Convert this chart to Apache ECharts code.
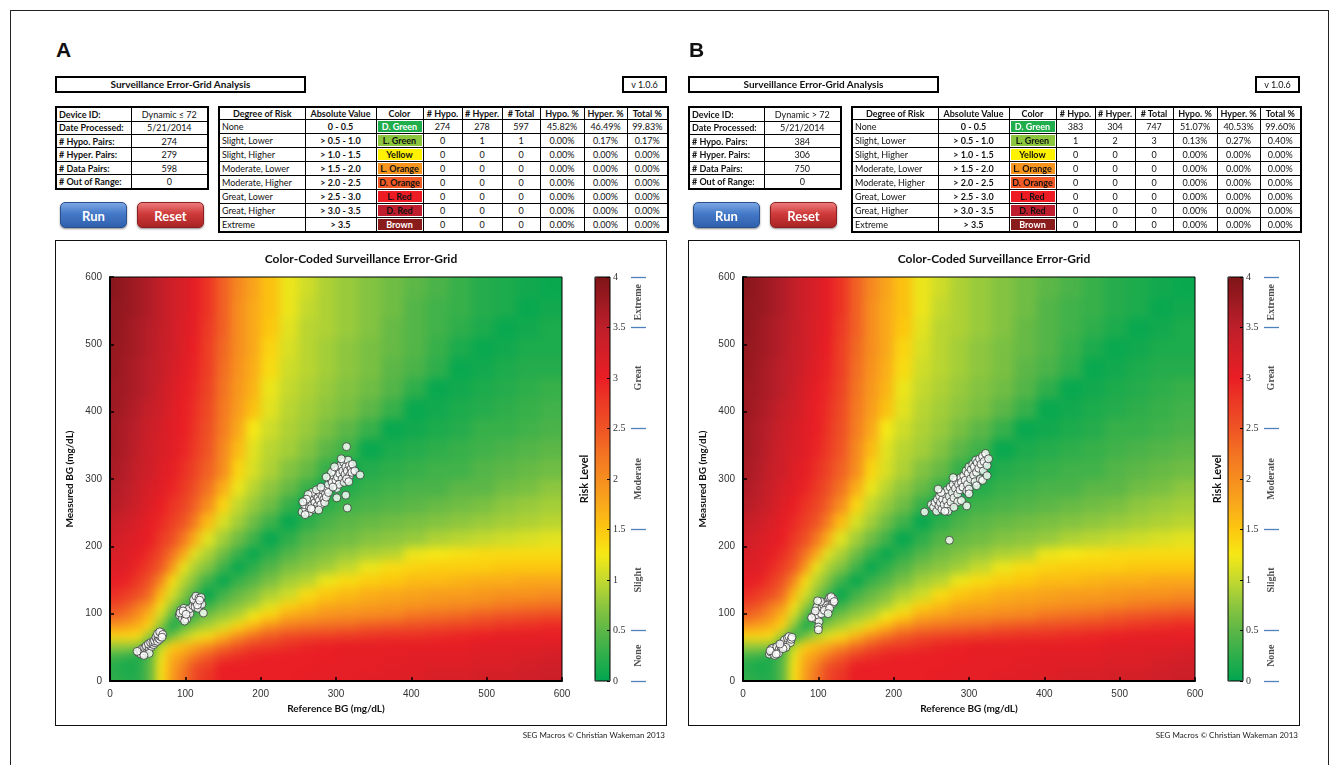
<!DOCTYPE html>
<html><head><meta charset="utf-8">
<script src="https://cdn.jsdelivr.net/npm/echarts@6.0.0/dist/echarts.min.js"></script>
<style>
html,body{margin:0;padding:0;background:#fff}
body{width:1333px;height:765px;overflow:hidden;position:relative;font-family:Lato,'Liberation Sans',sans-serif;color:#111}
#frame{position:absolute;left:10px;top:10px;width:1319px;height:790px;border:1px solid #222;box-sizing:border-box}
.panel{position:absolute;top:0;width:680px;height:765px}
.letter{position:absolute;left:56px;top:38px;font:bold 21px 'Liberation Sans',Arial,sans-serif}
.tbox{position:absolute;top:76px;left:55px;width:251px;height:17px;border:2px solid #000;box-sizing:border-box;font-weight:bold;font-size:10px;text-align:center;line-height:13px}
.vbox{position:absolute;top:76px;left:622px;width:45px;height:17px;border:2px solid #000;box-sizing:border-box;font-size:9px;text-align:center;line-height:13px}
table{position:absolute;border-collapse:collapse;table-layout:fixed;font-size:9px;border:2px solid #000}
td{border:1px solid #000;padding:0 2px;white-space:nowrap;overflow:hidden;line-height:11px}
.dev td.l{font-weight:bold;text-align:left}
.dev td.v{text-align:center}
.risk td{text-align:center}
.risk tr.h td{font-weight:bold}
.risk td.d{text-align:left}
.risk td.a{font-weight:bold}
.risk td.c{padding:1px 1px;font-weight:bold}
.risk td.c div{height:11px;line-height:11px}
.btn{position:absolute;top:202px;width:67px;height:26px;border-radius:5px;color:#fff;font-weight:bold;font-size:13px;text-align:center;line-height:26px;box-sizing:border-box;box-shadow:0 1px 2px rgba(0,0,0,.45)}
.run{left:60px;background:linear-gradient(#7aa6e4,#4479c8 45%,#2f60ad);border:1px solid #2d4f8a}
.reset{left:137px;background:linear-gradient(#ec7b7b,#cf3a3a 45%,#aa2424);border:1px solid #8a2020}
.cbox{position:absolute;left:55px;top:240px;width:612px;height:486px;border:1px solid #111;box-sizing:border-box}
.heatclip{position:absolute;left:110px;top:277px;width:452px;height:404px;overflow:hidden}
.heat{position:absolute;left:-30px;top:-30px;width:512px;height:464px;filter:blur(5px)}
.chart{position:absolute;left:55px;top:240px;width:612px;height:486px}
.foot{position:absolute;left:465px;top:730px;width:200px;text-align:right;font-size:8px;color:#222}
</style>
</head><body>
<div id="frame"></div>
<script>
// ---------------- DATA ----------------
const panelLetters = ['A', 'B'];
const headerTitle = 'Surveillance Error-Grid Analysis';
const versionText = 'v 1.0.6';
const chartTitle = 'Color-Coded Surveillance Error-Grid';
const footerText = 'SEG Macros \u00a9 Christian Wakeman 2013';

const deviceLabels = ['Device ID:', 'Date Processed:', '# Hypo. Pairs:', '# Hyper. Pairs:', '# Data Pairs:', '# Out of Range:'];
const deviceValuesA = ['Dynamic \u2264 72', '5/21/2014', '274', '279', '598', '0'];
const deviceValuesB = ['Dynamic > 72', '5/21/2014', '384', '306', '750', '0'];

const riskHeaders = ['Degree of Risk', 'Absolute Value', 'Color', '# Hypo.', '# Hyper.', '# Total', 'Hypo. %', 'Hyper. %', 'Total %'];
const riskDegrees = ['None', 'Slight, Lower', 'Slight, Higher', 'Moderate, Lower', 'Moderate, Higher', 'Great, Lower', 'Great, Higher', 'Extreme'];
const riskRanges = ['0 - 0.5', '> 0.5 - 1.0', '> 1.0 - 1.5', '> 1.5 - 2.0', '> 2.0 - 2.5', '> 2.5 - 3.0', '> 3.0 - 3.5', '> 3.5'];
const riskColorNames = ['D. Green', 'L. Green', 'Yellow', 'L. Orange', 'D. Orange', 'L. Red', 'D. Red', 'Brown'];
const riskColorFills = ['#1fae4b', '#8cc63e', '#fff200', '#f7941d', '#f15a24', '#ed1c24', '#be1e2d', '#8b1c1c'];
const riskColorText = ['#fff', '#111', '#111', '#111', '#111', '#111', '#111', '#fff'];

const hypoA = [274, 0, 0, 0, 0, 0, 0, 0];
const hyperA = [278, 1, 0, 0, 0, 0, 0, 0];
const totalA = [597, 1, 0, 0, 0, 0, 0, 0];
const hypoPctA = ['45.82%', '0.00%', '0.00%', '0.00%', '0.00%', '0.00%', '0.00%', '0.00%'];
const hyperPctA = ['46.49%', '0.17%', '0.00%', '0.00%', '0.00%', '0.00%', '0.00%', '0.00%'];
const totalPctA = ['99.83%', '0.17%', '0.00%', '0.00%', '0.00%', '0.00%', '0.00%', '0.00%'];

const hypoB = [383, 1, 0, 0, 0, 0, 0, 0];
const hyperB = [304, 2, 0, 0, 0, 0, 0, 0];
const totalB = [747, 3, 0, 0, 0, 0, 0, 0];
const hypoPctB = ['51.07%', '0.13%', '0.00%', '0.00%', '0.00%', '0.00%', '0.00%', '0.00%'];
const hyperPctB = ['40.53%', '0.27%', '0.00%', '0.00%', '0.00%', '0.00%', '0.00%', '0.00%'];
const totalPctB = ['99.60%', '0.40%', '0.00%', '0.00%', '0.00%', '0.00%', '0.00%', '0.00%'];

// risk colour scale (0 .. 4, every 0.25)
const riskScaleColors = ['#00a650', '#2eae4b', '#5cb747', '#8dc63f', '#c4d92e', '#f6e816', '#fcc70f', '#f9a81b', '#f68d1f',
  '#f37322', '#ef5425', '#ec3a25', '#ea1e25', '#d41f27', '#bd1f2a', '#9e1a22', '#7d1518'];
const categoryBounds = [0, 0.5, 1.5, 2.5, 3.5, 4];
const categoryNames = ['None', 'Slight', 'Moderate', 'Great', 'Extreme'];
const categoryMids = [0.25, 1, 2, 3, 3.75];

// SEG background grid: cell edges (mg/dL) on both axes, rows from measured 0 upwards, risk
const gridEdges = [0, 15, 30, 45, 60, 75, 90, 105, 120, 140, 160, 180, 200, 225, 250, 275, 300, 330, 360, 390, 420, 450, 480, 510, 540, 570, 600];
const riskRows = [
  [0.25,0.2,0.2,0.5,1.3,1.85,2.25,2.6,2.8,3.0,3.0,3.0,3.0,3.0,3.05,3.05,3.05,3.1,3.1,3.15,3.2,3.2,3.25,3.25,3.3,3.35],
  [0.2,0.1,0.2,0.5,1.3,1.8,2.15,2.55,2.7,3.0,3.0,3.0,3.0,3.0,3.0,3.05,3.05,3.05,3.1,3.1,3.15,3.15,3.2,3.2,3.25,3.3],
  [0.35,0.3,0.15,0.45,1.2,1.7,1.9,2.2,2.45,2.7,2.85,2.95,3.0,3.0,3.0,3.0,3.05,3.05,3.05,3.1,3.1,3.1,3.15,3.15,3.2,3.25],
  [0.8,0.8,0.75,0.15,1.0,1.45,1.6,1.75,2.0,2.3,2.5,2.7,2.75,2.85,2.95,3.0,3.05,3.05,3.05,3.05,3.05,3.05,3.1,3.1,3.1,3.15],
  [1.4,1.4,1.35,0.8,0.2,0.65,0.95,1.15,1.35,1.65,2.0,2.25,2.45,2.6,2.65,2.7,2.75,2.8,2.85,2.85,2.9,2.95,3.0,3.05,3.05,3.05],
  [1.9,1.8,1.65,1.4,0.75,0.1,0.5,0.75,0.9,1.1,1.4,1.65,1.95,2.15,2.25,2.3,2.35,2.45,2.5,2.55,2.6,2.65,2.7,2.8,2.85,2.9],
  [2.35,2.2,1.95,1.6,1.05,0.5,0.05,0.4,0.65,0.8,0.95,1.25,1.45,1.75,1.85,1.95,2.0,2.05,2.1,2.25,2.3,2.35,2.45,2.5,2.55,2.6],
  [2.6,2.45,2.15,1.9,1.3,0.8,0.4,0.05,0.35,0.6,0.75,0.9,1.15,1.45,1.6,1.75,1.8,1.85,1.9,1.95,2.0,2.05,2.1,2.2,2.25,2.3],
  [2.85,2.7,2.55,2.3,1.6,1.1,0.75,0.4,0.05,0.35,0.55,0.7,0.9,1.05,1.35,1.5,1.6,1.7,1.75,1.8,1.85,1.85,1.9,1.95,1.95,2.0],
  [3.05,2.95,2.75,2.5,2.05,1.35,0.95,0.7,0.35,0.05,0.3,0.45,0.65,0.85,0.95,1.2,1.35,1.45,1.5,1.6,1.6,1.65,1.7,1.7,1.75,1.75],
  [3.15,3.1,2.9,2.7,2.45,1.9,1.2,0.9,0.7,0.35,0.05,0.25,0.45,0.65,0.75,0.85,1.0,1.2,1.35,1.4,1.45,1.45,1.45,1.5,1.5,1.5],
  [3.2,3.15,3.05,2.85,2.6,2.25,1.75,1.15,0.9,0.6,0.3,0.05,0.25,0.45,0.6,0.7,0.8,0.9,0.95,1.2,1.25,1.3,1.35,1.35,1.35,1.35],
  [3.3,3.2,3.1,3.0,2.75,2.55,2.2,1.7,1.15,0.85,0.6,0.35,0.05,0.25,0.45,0.55,0.6,0.7,0.75,0.8,0.9,0.95,1.0,1.05,1.1,1.15],
  [3.4,3.3,3.2,3.05,2.9,2.7,2.5,2.15,1.6,1.1,0.85,0.6,0.35,0.05,0.25,0.4,0.5,0.55,0.6,0.65,0.7,0.75,0.8,0.85,0.9,0.95],
  [3.55,3.45,3.3,3.15,3.0,2.8,2.65,2.4,2.0,1.4,1.0,0.8,0.6,0.3,0.05,0.25,0.35,0.4,0.45,0.5,0.55,0.6,0.65,0.75,0.8,0.85],
  [3.6,3.5,3.35,3.2,3.1,2.95,2.75,2.55,2.25,1.7,1.2,0.95,0.75,0.55,0.3,0.05,0.2,0.3,0.35,0.4,0.4,0.5,0.5,0.6,0.65,0.75],
  [3.65,3.55,3.4,3.3,3.15,3.05,2.85,2.65,2.4,2.0,1.4,1.1,0.9,0.7,0.55,0.3,0.05,0.2,0.25,0.3,0.35,0.35,0.45,0.5,0.55,0.6],
  [3.7,3.6,3.45,3.3,3.2,3.1,2.95,2.75,2.5,2.05,1.6,1.15,0.95,0.85,0.7,0.5,0.35,0.05,0.15,0.2,0.25,0.3,0.35,0.4,0.45,0.5],
  [3.7,3.6,3.5,3.35,3.25,3.1,3.0,2.8,2.55,2.15,1.75,1.25,1.05,0.9,0.8,0.65,0.5,0.3,0.05,0.1,0.15,0.2,0.3,0.3,0.35,0.4],
  [3.75,3.65,3.55,3.4,3.3,3.15,3.0,2.85,2.6,2.2,1.85,1.55,1.15,0.95,0.85,0.75,0.65,0.5,0.3,0.05,0.1,0.15,0.2,0.25,0.3,0.35],
  [3.75,3.7,3.6,3.5,3.35,3.2,3.05,2.9,2.65,2.25,1.9,1.65,1.2,1.0,0.9,0.8,0.7,0.6,0.45,0.25,0.05,0.1,0.15,0.2,0.25,0.3],
  [3.8,3.7,3.6,3.5,3.4,3.25,3.1,2.95,2.7,2.3,1.95,1.7,1.35,1.05,0.95,0.85,0.75,0.65,0.5,0.4,0.25,0.05,0.1,0.15,0.2,0.2],
  [3.8,3.75,3.65,3.55,3.4,3.3,3.15,3.0,2.7,2.35,2.0,1.75,1.4,1.1,0.95,0.85,0.75,0.65,0.55,0.45,0.3,0.15,0.05,0.1,0.15,0.15],
  [3.85,3.75,3.65,3.55,3.45,3.3,3.15,3.05,2.75,2.4,2.0,1.75,1.5,1.15,0.95,0.9,0.8,0.7,0.55,0.45,0.35,0.25,0.15,0.05,0.1,0.15],
  [3.85,3.8,3.7,3.6,3.45,3.3,3.2,3.05,2.8,2.4,2.0,1.75,1.55,1.2,1.0,0.9,0.8,0.7,0.6,0.45,0.35,0.3,0.2,0.15,0.05,0.1],
  [3.9,3.8,3.7,3.6,3.45,3.3,3.2,3.05,2.8,2.4,2.05,1.8,1.55,1.2,1.05,0.9,0.8,0.7,0.6,0.5,0.4,0.3,0.2,0.15,0.1,0.05]
];

// measured pairs [reference, measured]
const pairsA = [
  [38,42],[40,45],[42,43],[44,46],[41,40],[45,41],[47,44],[43,48],[46,49],[49,47],[50,50],[48,52],[52,49],[53,53],[55,51],[51,55],
  [56,55],[54,57],[58,54],[57,58],[60,57],[59,60],[62,62],[61,65],[63,59],[64,64],[65,68],[66,62],[67,66],[63,70],[68,72],[66,73],
  [70,69],[69,65],[52,41],[36,44],[45,38],
  [92,98],[95,102],[97,96],[99,100],[101,104],[103,98],[96,93],[100,95],[94,105],[98,108],[104,103],[106,100],[102,92],[99,89],
  [93,101],[105,107],[97,104],[101,99],
  [110,112],[112,118],[114,115],[116,120],[113,110],[118,116],[115,124],[119,112],[117,108],[120,119],[122,114],[111,121],
  [114,126],[118,123],[121,124],[124,101],[116,113],[119,120],
  [255,251],[260,255],[258,262],[262,266],[265,258],[264,250],[268,262],[270,270],[266,273],[272,265],[275,260],[273,277],
  [276,272],[278,268],[280,262],[279,279],[282,274],[284,270],[283,283],[286,278],[288,285],[285,265],[268,280],[263,277],
  [270,255],[277,254],[287,273],[290,280],[274,284],[261,270],[280,288],[267,256],[256,266],[259,247],
  [290,292],[293,300],[295,295],[297,305],[299,311],[300,298],[302,303],[303,315],[305,308],[306,320],[308,300],[309,312],
  [310,325],[312,307],[313,318],[315,312],[316,328],[318,305],[318,320],[320,315],[322,322],[294,310],[298,318],[301,286],
  [304,292],[307,330],[311,295],[314,300],[296,288],[317,296],[321,310],[325,312],[332,306],[287,303],[313,276],[315,257],
  [301,272],[314,348]
];
const pairsB = [
  [35,40],[37,43],[39,46],[41,42],[43,45],[40,49],[44,48],[46,44],[38,48],[42,38],[45,51],[48,47],[36,45],[47,41],[50,52],
  [52,55],[54,57],[56,53],[58,58],[55,61],[60,60],[62,62],[59,64],[63,57],[61,66],[64,62],[57,50],[53,48],[65,65],[49,55],[44,40],
  [92,95],[95,99],[97,92],[99,103],[100,98],[102,106],[98,110],[104,100],[96,104],[101,88],[100,80],[100,76],[91,94],[105,110],
  [107,113],[110,115],[112,118],[114,121],[116,117],[118,120],[115,124],[111,112],[119,115],[120,122],[117,125],[113,109],
  [108,105],[115,108],[121,118],[103,118],[99,119],[113,100],
  [250,262],[253,258],[255,265],[257,252],[258,270],[260,260],[261,275],[262,265],[264,255],[265,270],[267,262],[268,278],
  [270,268],[271,284],[272,260],[274,274],[275,288],[276,266],[278,280],[279,292],[280,272],[282,286],[283,298],[285,278],
  [286,292],[288,284],[289,302],[290,295],[292,288],[293,305],[295,298],[296,312],[298,292],[299,308],[300,318],[302,300],
  [303,314],[305,322],[306,306],[307,318],[309,328],[310,310],[311,324],[313,316],[314,330],[316,322],[318,334],[319,312],
  [320,326],[322,338],[324,320],[326,330],[308,296],[297,282],[285,266],[272,252],[263,280],[279,302],[300,285],[315,300],
  [290,268],[300,278],[310,290],[318,298],[324,305],[280,258],[268,252],[241,251],[274,209],[297,260],[259,285]
];

// ---------------- BUILD ----------------
const panelOffsets = [0, 633];
const panels = [
  {dev: deviceValuesA, hypo: hypoA, hyper: hyperA, total: totalA, hp: hypoPctA, yp: hyperPctA, tp: totalPctA, pts: pairsA},
  {dev: deviceValuesB, hypo: hypoB, hyper: hyperB, total: totalB, hp: hypoPctB, yp: hyperPctB, tp: totalPctB, pts: pairsB}
];

const cells = [];
for (let j = 0; j < riskRows.length; j++) {
  for (let i = 0; i < riskRows[j].length; i++) {
    cells.push([gridEdges[i], gridEdges[i + 1], gridEdges[j], gridEdges[j + 1], riskRows[j][i]]);
  }
}
const axisMin = gridEdges[0], axisMax = gridEdges[gridEdges.length - 1];

function el(tag, cls, parent, html) {
  const e = document.createElement(tag);
  if (cls) e.className = cls;
  if (html !== undefined) e.innerHTML = html;
  parent.appendChild(e);
  return e;
}

// background risk surface (drawn in its own layer, softened, then clipped to the plot area)
function heatOption() {
  const pad = 30;
  return {
    animation: false,
    grid: {left: pad, top: pad, width: 452, height: 404},
    xAxis: {type: 'value', min: axisMin, max: axisMax, show: false},
    yAxis: {type: 'value', min: axisMin, max: axisMax, show: false},
    visualMap: {type: 'continuous', show: false, min: 0, max: 4, dimension: 4, seriesIndex: 0, inRange: {color: riskScaleColors}},
    series: [{type: 'custom', data: cells, silent: true, encode: {x: [0, 1], y: [2, 3]},
      renderItem: function (params, api) {
        const x0v = api.value(0), x1v = api.value(1), y0v = api.value(2), y1v = api.value(3);
        const p0 = api.coord([x0v, y1v]);
        const p1 = api.coord([x1v, y0v]);
        let x = p0[0], y = p0[1], x2 = p1[0] + 0.7, y2 = p1[1] + 0.7;
        if (x0v === axisMin) x -= pad;
        if (x1v === axisMax) x2 += pad;
        if (y1v === axisMax) y -= pad;
        if (y0v === axisMin) y2 += pad;
        return {type: 'rect', shape: {x: x, y: y, width: x2 - x, height: y2 - y}, style: {fill: api.visual('color')}};
      }}]
  };
}

function makeOption(pts) {
  const axisFont = {color: '#333', fontSize: 10, fontFamily: 'Liberation Sans'};
  const nameFont = {fontWeight: 'bold', fontSize: 10, color: '#111', fontFamily: 'Lato'};
  return {
    animation: false,
    title: {text: chartTitle, left: 'center', top: 8,
      textStyle: {fontFamily: 'Lato', fontWeight: 'bold', fontSize: 12, color: '#111'}},
    grid: [
      {left: 55, top: 37, width: 452, height: 404, show: true, borderColor: '#000', borderWidth: 1, backgroundColor: 'transparent', z: 10},
      {left: 540, top: 37, width: 15, height: 404, show: true, borderColor: '#000', borderWidth: 1, backgroundColor: 'transparent', z: 10},
      {left: 576, top: 37, width: 15, height: 404}
    ],
    xAxis: [
      {gridIndex: 0, type: 'value', min: 0, max: 600, interval: 100, z: 11,
        axisLine: {onZero: false, lineStyle: {color: '#000', width: 2}},
        axisTick: {inside: true, length: 4, lineStyle: {color: '#000', width: 1.5}},
        axisLabel: Object.assign({margin: 8}, axisFont), splitLine: {show: false},
        name: 'Reference BG (mg/dL)', nameLocation: 'middle', nameGap: 23, nameTextStyle: nameFont},
      {gridIndex: 1, type: 'value', min: 0, max: 1, show: false},
      {gridIndex: 2, type: 'value', min: 0, max: 1, show: false}
    ],
    yAxis: [
      {gridIndex: 0, type: 'value', min: 0, max: 600, interval: 100, z: 11,
        axisLine: {onZero: false, lineStyle: {color: '#000', width: 2}},
        axisTick: {inside: true, length: 4, lineStyle: {color: '#000', width: 1.5}},
        axisLabel: Object.assign({margin: 8}, axisFont), splitLine: {show: false},
        name: 'Measured BG (mg/dL)', nameLocation: 'middle', nameGap: 18, nameTextStyle: nameFont},
      {gridIndex: 1, type: 'value', min: 0, max: 4, position: 'left',
        axisLine: {show: false}, axisTick: {show: false}, axisLabel: {show: false}, splitLine: {show: false},
        name: 'Risk Level', nameLocation: 'middle', nameGap: 5,
        nameTextStyle: {fontWeight: 'bold', fontSize: 11, color: '#111', fontFamily: 'Lato'}},
      {gridIndex: 1, type: 'value', min: 0, max: 4, interval: 0.5, position: 'right', z: 11,
        axisLine: {show: false}, axisTick: {inside: true, length: 3, lineStyle: {color: '#000'}},
        axisLabel: {margin: 3, fontSize: 10, fontFamily: 'Liberation Serif', color: '#333'}, splitLine: {show: false}},
      {gridIndex: 2, type: 'value', min: 0, max: 4, show: false}
    ],
    visualMap: {type: 'continuous', min: 0, max: 4, seriesIndex: [], show: true,
      left: 540, top: 37, itemWidth: 15, itemHeight: 404, padding: 0, calculable: false, hoverLink: false,
      inRange: {color: riskScaleColors}, textStyle: {color: 'transparent'}},
    series: [
      {type: 'scatter', xAxisIndex: 0, yAxisIndex: 0, data: pts, symbolSize: 8, z: 5, silent: true,
        itemStyle: {color: '#fff', borderColor: '#3a3a3a', borderWidth: 1}},
      {type: 'scatter', xAxisIndex: 2, yAxisIndex: 3, silent: true, symbolSize: 1,
        data: categoryMids.map((v, k) => [0.5, v, categoryNames[k]]),
        itemStyle: {color: 'rgba(0,0,0,0)'},
        label: {show: true, position: 'inside', rotate: 90, formatter: p => p.data[2],
          fontFamily: 'Liberation Serif', fontWeight: 'bold', fontSize: 10, color: '#222'},
        markLine: {silent: true, symbol: ['none', 'none'], label: {show: false},
          lineStyle: {color: '#4f81bd', width: 1.3, type: 'solid'},
          data: categoryBounds.map(v => ({yAxis: v}))}}
    ]
  };
}

panels.forEach((p, k) => {
  const off = panelOffsets[k];
  const pan = el('div', 'panel', document.body);
  pan.style.left = off + 'px';
  el('div', 'letter', pan, panelLetters[k]);
  el('div', 'tbox', pan, headerTitle);
  el('div', 'vbox', pan, versionText);

  const dt = el('table', 'dev', pan);
  dt.style.left = '55px'; dt.style.top = '106px'; dt.style.width = '152px'; dt.style.height = '84px';
  let h = '<colgroup><col style="width:75px"><col style="width:77px"></colgroup>';
  deviceLabels.forEach((l, i) => { h += '<tr><td class="l">' + l + '</td><td class="v">' + p.dev[i] + '</td></tr>'; });
  dt.innerHTML = h;

  const rt = el('table', 'risk', pan);
  rt.style.left = '218px'; rt.style.top = '106px'; rt.style.width = '449px'; rt.style.height = '124px';
  const cw = [86, 71, 47, 39, 40, 38, 44, 43, 41];
  h = '<colgroup>' + cw.map(w => '<col style="width:' + w + 'px">').join('') + '</colgroup>';
  h += '<tr class="h">' + riskHeaders.map(t => '<td>' + t + '</td>').join('') + '</tr>';
  riskDegrees.forEach((d, i) => {
    h += '<tr><td class="d">' + d + '</td><td class="a">' + riskRanges[i] + '</td>' +
      '<td class="c"><div style="background:' + riskColorFills[i] + ';color:' + riskColorText[i] + '">' + riskColorNames[i] + '</div></td>' +
      '<td>' + p.hypo[i] + '</td><td>' + p.hyper[i] + '</td><td>' + p.total[i] + '</td>' +
      '<td>' + p.hp[i] + '</td><td>' + p.yp[i] + '</td><td>' + p.tp[i] + '</td></tr>';
  });
  rt.innerHTML = h;

  el('div', 'btn run', pan, 'Run');
  el('div', 'btn reset', pan, 'Reset');
  el('div', 'cbox', pan);
  const clip = el('div', 'heatclip', pan);
  const hd = el('div', 'heat', clip);
  const c = el('div', 'chart', pan);
  el('div', 'foot', pan, footerText);
  echarts.init(hd, null, {renderer: 'canvas'}).setOption(heatOption());
  echarts.init(c, null, {renderer: 'canvas'}).setOption(makeOption(p.pts));
});
</script>
</body></html>
